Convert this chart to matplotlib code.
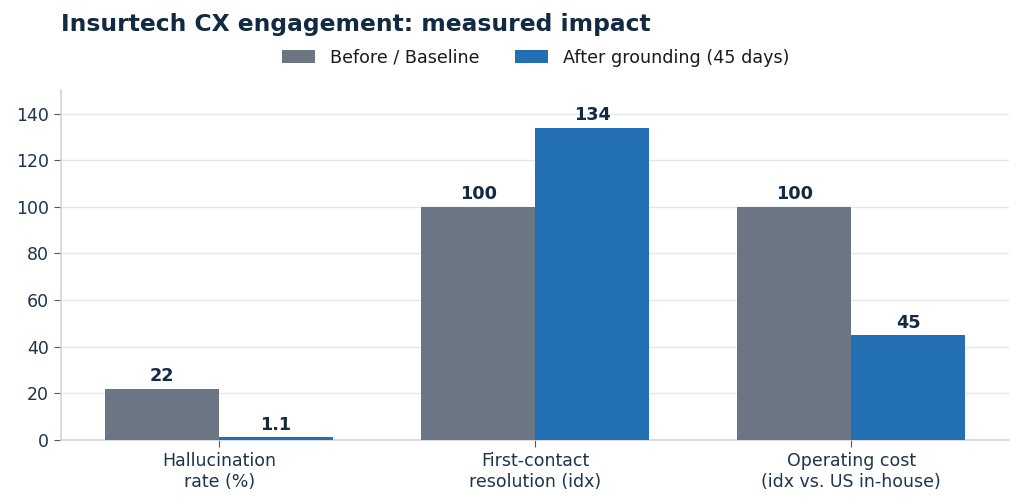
import numpy as np
import matplotlib.pyplot as plt

plt.rcParams["font.family"] = ["DejaVu Sans"]

# Datos del gráfico
categorias = ["Hallucination\nrate (%)", "First-contact\nresolution (idx)", "Operating cost\n(idx vs. US in-house)"]
antes = [22, 100, 100]
despues = [1.1, 134, 45]
etiquetas_antes = ["22", "100", "100"]
etiquetas_despues = ["1.1", "134", "45"]

color_texto = "#1f3349"
color_titulo = "#132a43"
gris = "#6b7583"
azul = "#236fb3"

fig = plt.figure(figsize=(10.24, 5.04), dpi=100)
ax = fig.add_axes([0.0596, 0.127, 0.926, 0.694])

x = np.arange(len(categorias))
ancho = 0.36
b1 = ax.bar(x - ancho / 2, antes, ancho, color=gris, label="Before / Baseline", zorder=3)
b2 = ax.bar(x + ancho / 2, despues, ancho, color=azul, label="After grounding (45 days)", zorder=3)

for barras, etiquetas in ((b1, etiquetas_antes), (b2, etiquetas_despues)):
    for barra, texto in zip(barras, etiquetas):
        ax.annotate(texto, (barra.get_x() + barra.get_width() / 2, barra.get_height()),
                    xytext=(0, 2.5), textcoords="offset points", ha="center", va="bottom",
                    fontsize=12.7, fontweight="bold", color=color_titulo)

ax.set_xlim(-0.5, 2.5)
ax.set_ylim(0, 150)
ax.set_yticks(range(0, 141, 20))
ax.set_xticks(x)
ax.set_xticklabels(categorias)
ax.tick_params(axis="both", labelsize=12.5, colors=color_texto, length=5)
ax.tick_params(axis="both", color="#4a5868")
ax.grid(axis="y", color="#e3e7ec", linewidth=1, zorder=0)
for lado in ("top", "right"):
    ax.spines[lado].set_visible(False)
for lado in ("left", "bottom"):
    ax.spines[lado].set_color("#cfd6df")
    ax.spines[lado].set_linewidth(1.2)

fig.text(0.0596, 0.952, "Insurtech CX engagement: measured impact", fontsize=16.8,
         fontweight="bold", color=color_titulo, va="center", ha="left")
fig.legend(loc="center", bbox_to_anchor=(0.523, 0.885), ncol=2, frameon=False,
           fontsize=12.6, handlelength=1.9, handleheight=0.75, handletextpad=0.85,
           columnspacing=2.05, labelcolor="#1a1a1a")

fig.savefig("out.png", dpi=100)
